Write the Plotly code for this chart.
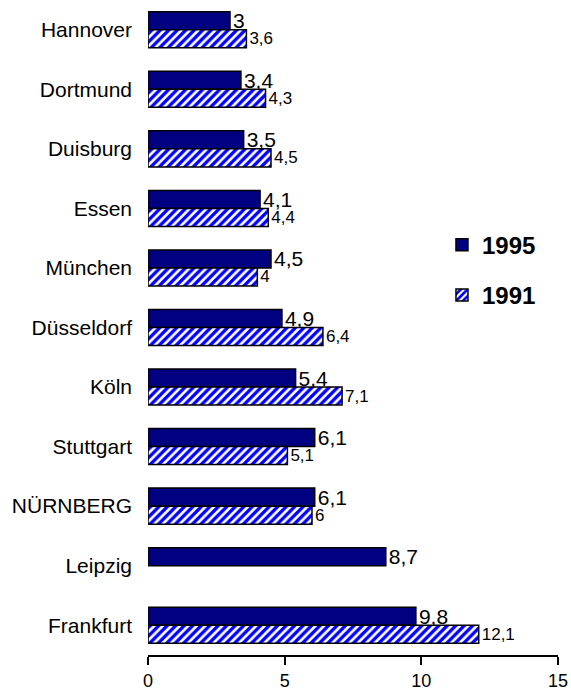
import plotly.graph_objects as go

cities = ["Hannover", "Dortmund", "Duisburg", "Essen", "München", "Düsseldorf",
          "Köln", "Stuttgart", "NÜRNBERG", "Leipzig", "Frankfurt"]
v1995 = [3, 3.4, 3.5, 4.1, 4.5, 4.9, 5.4, 6.1, 6.1, 8.7, 9.8]
v1991 = [3.6, 4.3, 4.5, 4.4, 4, 6.4, 7.1, 5.1, 6, None, 12.1]
x_ticks = [0, 5, 10, 15]


def fmt(v):
    if v is None:
        return ""
    s = ("%g" % v)
    return s.replace(".", ",")


FONT = "Liberation Sans, Arial, sans-serif"

fig = go.Figure()
fig.add_trace(go.Bar(
    y=cities, x=v1995, orientation="h", name="1995",
    marker=dict(color="#000080", line=dict(color="black", width=1.5)),
    text=[fmt(v) for v in v1995], textposition="outside",
    textfont=dict(size=21, color="black", family=FONT),
    constraintext="none", cliponaxis=False,
    legendgroup="a",
))
fig.add_trace(go.Bar(
    y=cities, x=v1991, orientation="h", name="1991",
    marker=dict(color="white", line=dict(color="black", width=1.5),
                pattern=dict(shape="/", fgcolor="#0000ff", bgcolor="white",
                             size=6, solidity=0.55, fgopacity=1)),
    text=[fmt(v) for v in v1991], textposition="outside",
    textfont=dict(size=17, color="black", family=FONT),
    constraintext="none", cliponaxis=False,
    legendgroup="b",
))

fig.update_layout(
    width=571, height=694,
    margin=dict(l=148, r=13, t=0, b=39),
    paper_bgcolor="white", plot_bgcolor="white",
    barmode="group", bargap=0.395, bargroupgap=0,
    font=dict(family=FONT, color="black", size=20),
    showlegend=True,
    legend=dict(x=0.717, y=0.66, xanchor="left", yanchor="top",
                font=dict(size=24, family=FONT, color="black", weight="bold"),
                traceorder="grouped", tracegroupgap=16, bgcolor="rgba(0,0,0,0)"),
    xaxis=dict(range=[0, 15], tickvals=x_ticks, ticktext=[str(t) for t in x_ticks],
               showgrid=False, zeroline=False, showline=True, linecolor="black",
               linewidth=2, ticks="outside", ticklen=8, tickwidth=2, tickcolor="black",
               tickfont=dict(size=18, family=FONT, color="black")),
    yaxis=dict(categoryorder="array", categoryarray=cities, autorange="reversed",
               showgrid=False, zeroline=False, showline=False, ticks="",
               ticklabelstandoff=15,
               tickfont=dict(size=21, family=FONT, color="black")),
)

fig.write_html("out.html", config={"displayModeBar": False},
               post_script="document.body.style.margin='0px';")
